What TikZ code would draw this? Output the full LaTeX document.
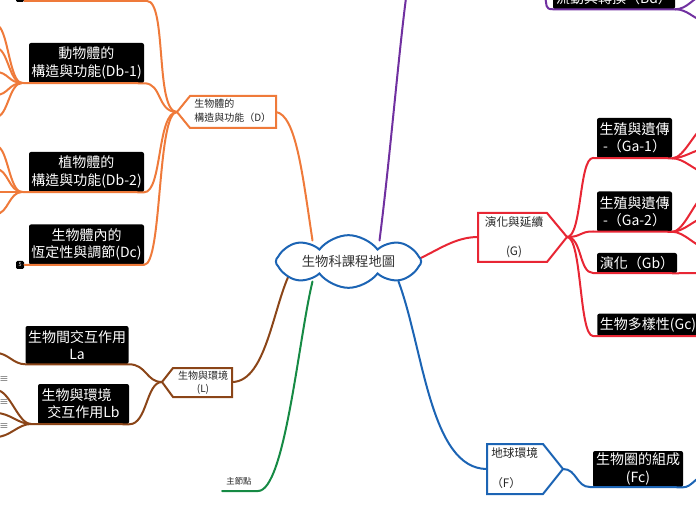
\documentclass[tikz,border=0pt]{standalone}
\usepackage{fontspec}
\setmainfont{Noto Sans CJK TC}
\usetikzlibrary{shapes.symbols}
\pgfdeclarelayer{background}
\pgfsetlayers{background,main}
\definecolor{corange}{RGB}{239,122,58}
\definecolor{cbrown}{RGB}{139,69,24}
\definecolor{cpurple}{RGB}{112,48,160}
\definecolor{cred}{RGB}{232,38,52}
\definecolor{cblue}{RGB}{28,100,180}
\definecolor{cgreen}{RGB}{22,138,68}
\tikzset{
  blk/.style={fill=black, rounded corners=1.5pt, text=white, align=center, inner sep=0pt, font=\fontsize{10.5}{13}\selectfont},
  br/.style={line width=1.5pt, line cap=round, line join=round},
  pent/.style={line width=1.5pt, fill=white, line join=miter},
  stxt/.style={font=\fontsize{7.5}{10.5}\selectfont, text=black!85, inner sep=0pt},
  mtxt/.style={font=\fontsize{8.75}{11}\selectfont, text=black!85, inner sep=0pt},
  cnt/.style={fill=black, rounded corners=1pt, minimum size=6pt, inner sep=0pt, text=white, font=\fontsize{4}{4}\selectfont},
  note/.style={font=\fontsize{7}{7}\selectfont, text=black!70, inner sep=0pt},
}
\begin{document}
\begin{tikzpicture}[x=0.75pt,y=-0.75pt]
\useasboundingbox (0,0) rectangle (696,520);

% ---------- root ----------
\node[cloud, cloud puffs=8, cloud puff arc=105, cloud ignores aspect, draw=cblue, line width=1.5pt, fill=white,
      minimum width=109pt, minimum height=39.5pt, inner sep=0pt,
      font=\fontsize{10}{10}\selectfont, text=black!80] (root) at (348.5,261.5) {生物科課程地圖};

% ---------- D (orange) ----------
\coordinate (Dtip) at (177,112);
\coordinate (Dr) at (276,112);
\draw[pent, draw=corange] (Dtip) -- (190,96) -- (276,96) -- (276,128) -- (190,128) -- cycle;
\node[stxt, anchor=west, align=left] (Dt) at (194,111) {生物體的\\構造與功能（D）};
\begin{pgfonlayer}{background}
\draw[br, corange] (Dr) .. controls +(20,3) and +(-10,-66) .. ([shift={(-36,-21)}]root.center);
\end{pgfonlayer}

\node[cnt] (cntA) at (20,-2) {};
\coordinate (dtop) at (147,1);
\draw[br, corange] (cntA.east |- dtop) -- (dtop) .. controls +(20,0) and +(-22,0) .. (Dtip);

\node[blk, minimum width=86.25pt, minimum height=30pt] (db1) at (86.5,63) {動物體的\\構造與功能(Db-1)};
\coordinate (db1j) at (22,83);
\draw[br, corange] (db1j) -- (db1.south east) .. controls +(18,0) and +(-20,0) .. (Dtip);
\foreach \yy [count=\i] in {25,48,72,95,117}{
  \coordinate (da\i) at (-4,\yy);
  \draw[br, corange] (db1j) .. controls +(-13,0) and +(12,0) .. (da\i);
}

\node[blk, minimum width=86.25pt, minimum height=30pt] (db2) at (86.5,172) {植物體的\\構造與功能(Db-2)};
\coordinate (db2j) at (22,192);
\draw[br, corange] (db2j) -- (db2.south east) .. controls +(18,0) and +(-20,0) .. (Dtip);
\foreach \yy [count=\i] in {146,169,192,214}{
  \coordinate (db\i) at (-4,\yy);
  \draw[br, corange] (db2j) .. controls +(-13,0) and +(12,0) .. (db\i);
}

\node[blk, minimum width=86.25pt, minimum height=30pt] (dc) at (86.5,244.5) {生物體內的\\恆定性與調節(Dc)};
\node[cnt] (cntB) at (20,265) {5};
\draw[br, corange] (cntB.east |- dc.south) -- (dc.south east) .. controls +(18,0) and +(-20,0) .. (Dtip);

% ---------- L (brown) ----------
\coordinate (Ltip) at (162,382);
\coordinate (Lr) at (232,382);
\draw[pent, draw=cbrown] (Ltip) -- (173,368) -- (232,368) -- (232,397) -- (173,397) -- cycle;
\node[stxt, align=center, font=\fontsize{7.5}{9.5}\selectfont] (Lt) at (203,383) {生物與環境\\(L)};
\begin{pgfonlayer}{background}
\draw[br, cbrown] (Lr) .. controls +(36,0) and +(-20,32) .. ([shift={(-55,5)}]root.center);
\end{pgfonlayer}

\node[blk, minimum width=77.25pt, minimum height=28.5pt] (la) at (77,345) {生物間交互作用\\La};
\coordinate (lac) at (-4,353);
\draw[br, cbrown] (lac) .. controls +(12,0) and +(-12,0) .. (la.south west) -- (la.south east) .. controls +(18,0) and +(-16,0) .. (Ltip);

\node[blk, minimum width=68.25pt, minimum height=30pt] (lb) at (83.5,404) {生物與環境\kern1em\\交互作用Lb};
\coordinate (lbj) at (31,424);
\draw[br, cbrown] (lbj) -- (lb.south east) .. controls +(18,0) and +(-16,0) .. (Ltip);
\foreach \yy [count=\i] in {390,413,437}{
  \coordinate (lbc\i) at (-4,\yy);
  \draw[br, cbrown] (lbj) .. controls +(-13,0) and +(14,0) .. (lbc\i);
}
\node[note] (n1) at (4,380) {≡};
\node[note] (n2) at (4,403) {≡};
\node[note] (n3) at (4,427) {≡};

% ---------- green ----------
\coordinate (gm) at (222,491);
\coordinate (gmr) at (258,491);
\node[note, font=\fontsize{6.3}{7}\selectfont, text=black!85] (gmt) at (239,481) {主節點};
\begin{pgfonlayer}{background}
\draw[br, cgreen] ([shift={(-36,20)}]root.center) .. controls +(-14,57) and +(27,0) .. (gmr) -- (gm);
\end{pgfonlayer}

% ---------- purple ----------
\coordinate (ptop) at (406,-2);
\begin{pgfonlayer}{background}
\draw[br, cpurple] ([shift={(31,-21)}]root.center) .. controls +(10,-78) and +(-8,62) .. (ptop);
\end{pgfonlayer}

\node[blk, minimum width=91.5pt, minimum height=16.5pt] (bd) at (614,-2) {流動與轉換（Bd）};
\coordinate (bdin) at (545,-4);
\coordinate (bdo1) at (700,-3);
\coordinate (bdo2) at (700,19);
\draw[br, cpurple] (bdin) .. controls +(2,9) and +(-8,0) .. (bd.south west) -- (bd.south east);
\draw[br, cpurple] (bd.south east) .. controls +(12,0) and +(-6,0) .. (bdo1);
\draw[br, cpurple] (bd.south east) .. controls +(12,0) and +(-6,0) .. (bdo2);

% ---------- G (red) ----------
\coordinate (Gl) at (478,237);
\coordinate (Gtip) at (567,237);
\draw[pent, draw=cred] (478,213) -- (547,213) -- (Gtip) -- (547,262) -- (478,262) -- cycle;
\node[mtxt, align=center] (Gt) at (514,237) {演化與延續\\[11pt](G)};
\begin{pgfonlayer}{background}
\draw[br, cred] ([shift={(69,-2)}]root.center) .. controls +(20,-9) and +(-23,0) .. (Gl);
\end{pgfonlayer}

\node[blk, minimum width=56.25pt, minimum height=30pt] (ga1) at (634.5,138) {生殖與遺傳\\-（Ga-1）};
\coordinate (ga1l) at (593,158);
\draw[br, cred] (Gtip) .. controls +(15,0) and +(-14,0) .. (ga1l) -- (ga1.south east);
\foreach \yy [count=\i] in {128,149,172}{
  \coordinate (ga1o\i) at (704,\yy);
  \draw[br, cred] (ga1.south east) .. controls +(12,0) and +(-8,0) .. (ga1o\i);
}

\node[blk, minimum width=56.25pt, minimum height=30pt] (ga2) at (634.5,211.5) {生殖與遺傳\\-（Ga-2）};
\coordinate (ga2l) at (593,231.5);
\draw[br, cred] (Gtip) .. controls +(15,0) and +(-14,0) .. (ga2l) -- (ga2.south east);
\foreach \yy [count=\i] in {197,218,247}{
  \coordinate (ga2o\i) at (704,\yy);
  \draw[br, cred] (ga2.south east) .. controls +(12,0) and +(-8,0) .. (ga2o\i);
}

\node[blk, minimum width=60pt, minimum height=15pt] (gb) at (637,263) {演化（Gb）};
\coordinate (gbl) at (593,273);
\coordinate (gbo) at (705,273);
\draw[br, cred] (Gtip) .. controls +(15,0) and +(-14,0) .. (gbl) -- (gb.south east) -- (gbo);

\node[blk, anchor=south west, minimum height=16.5pt, inner xsep=2pt] (gc) at (597,336) {生物多樣性(Gc)};
\coordinate (gcl) at (593,336);
\coordinate (gco) at (705,336);
\draw[br, cred] (Gtip) .. controls +(15,0) and +(-14,0) .. (gcl) -- (gc.south east) -- (gco);

% ---------- F (blue) ----------
\coordinate (Fl) at (487,469);
\coordinate (Ftip) at (563,469);
\draw[pent, draw=cblue] (487,444) -- (543,444) -- (Ftip) -- (543,494) -- (487,494) -- cycle;
\node[mtxt, anchor=west, align=left] (Ft) at (491,468) {地球環境\\[11pt]（F）};
\begin{pgfonlayer}{background}
\draw[br, cblue] ([shift={(50,20)}]root.center) .. controls +(25,67) and +(-57,0) .. (Fl);
\end{pgfonlayer}

\node[blk, minimum width=67.5pt, minimum height=27pt] (fc) at (638,469) {生物圈的組成\\(Fc)};
\coordinate (fcl) at (590,487);
\coordinate (fco) at (702,477);
\draw[br, cblue] (Ftip) .. controls +(14,0) and +(-14,0) .. (fcl) -- (fc.south east) .. controls +(8,0) and +(-6,0) .. (fco);

\end{tikzpicture}
\end{document}
